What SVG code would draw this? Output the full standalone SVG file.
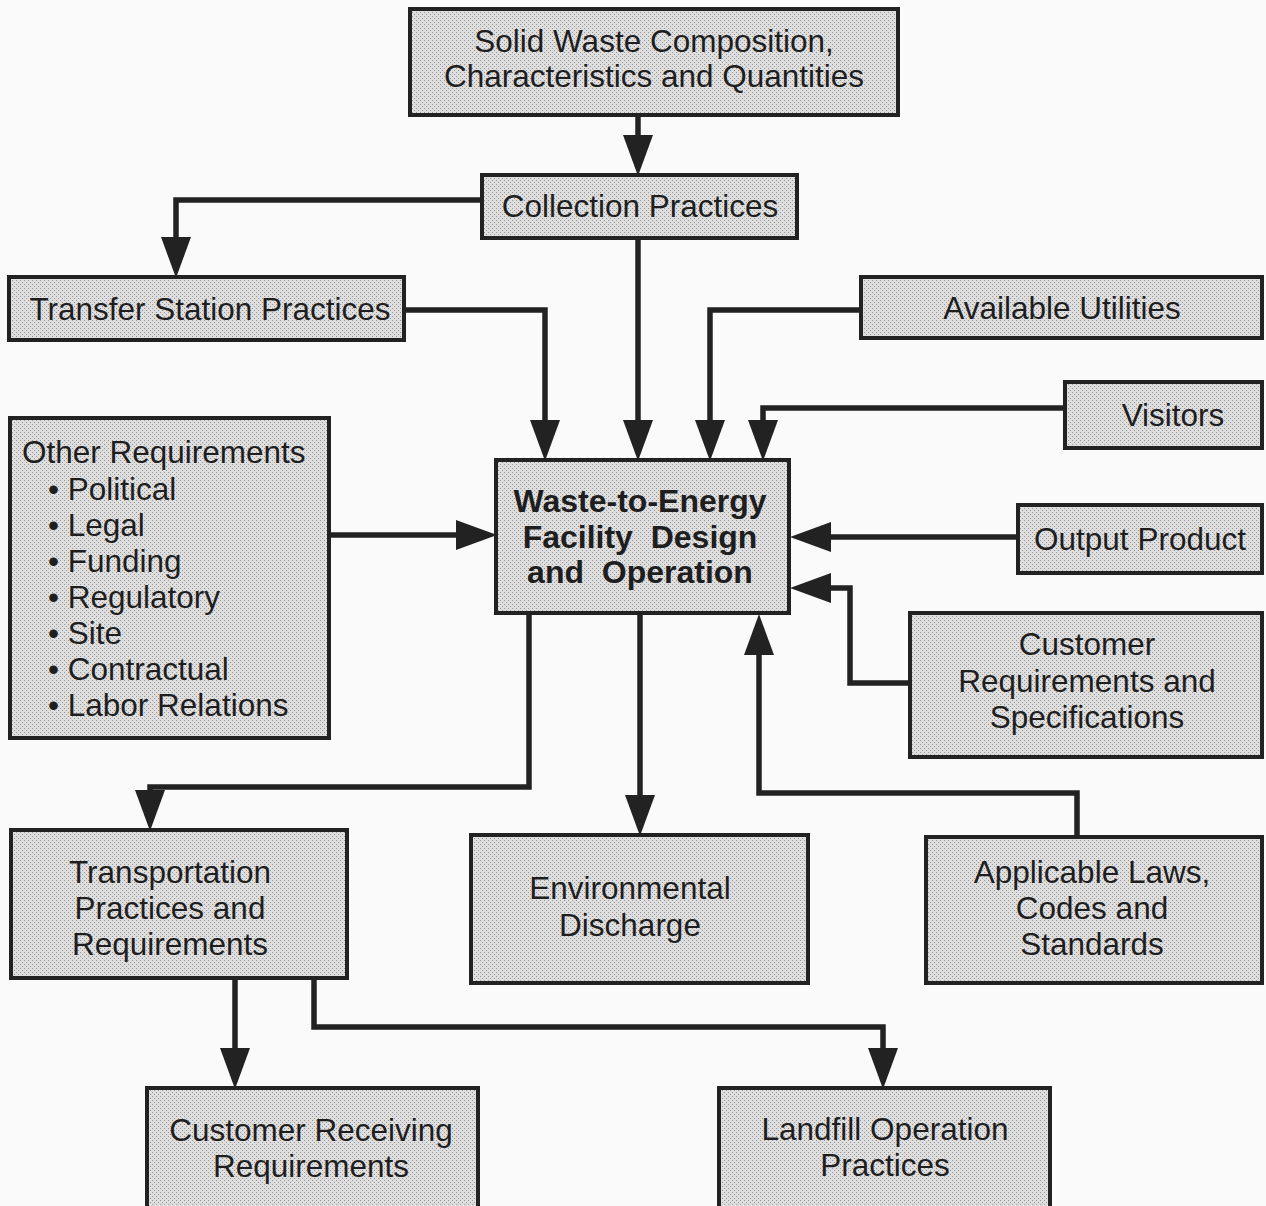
<svg xmlns="http://www.w3.org/2000/svg" width="1266" height="1206" viewBox="0 0 1266 1206">
  <defs>
    <pattern id="stip" width="4" height="4" patternUnits="userSpaceOnUse">
      <rect width="4" height="4" fill="#dedede"/>
      <rect x="0" y="0" width="1" height="1" fill="#969696"/>
      <rect x="2" y="2" width="1" height="1" fill="#969696"/>
    </pattern>
    <marker id="ah" markerUnits="userSpaceOnUse" markerWidth="42" markerHeight="32" viewBox="0 0 42 32" refX="10" refY="16" orient="auto">
      <path d="M0,1 L41,16 L0,31 z" fill="#222"/>
    </marker>
  </defs>
  <style>
    .box { fill: url(#stip); stroke: #222; stroke-width: 4; }
    .t { font-family: "Liberation Sans", Arial, sans-serif; font-size: 31.5px; fill: #1e1e1e; text-anchor: middle; }
    .tl { font-family: "Liberation Sans", Arial, sans-serif; font-size: 31.5px; fill: #1e1e1e; }
    .tb { font-family: "Liberation Sans", Arial, sans-serif; font-size: 32px; font-weight: bold; fill: #1e1e1e; text-anchor: middle; }
    .c { fill: none; stroke: #222; stroke-width: 5.5; stroke-linejoin: miter; marker-end: url(#ah); }
  </style>
  <rect width="1266" height="1206" fill="#fafafa"/>

  <g id="connectors">
    <path class="c" d="M638,115 V145"/>
    <path class="c" d="M482,200 H176 V247"/>
    <path class="c" d="M404,310 H545 V430"/>
    <path class="c" d="M638,238 V430"/>
    <path class="c" d="M861,310 H710 V430"/>
    <path class="c" d="M1065,408 H763 V430"/>
    <path class="c" d="M329,535 H466"/>
    <path class="c" d="M1018,537 H821"/>
    <path class="c" d="M910,683 H850 V588 H821"/>
    <path class="c" d="M1077,837 V793 H759 V645"/>
    <path class="c" d="M529,613 V787 H150 V800"/>
    <path class="c" d="M640,613 V805"/>
    <path class="c" d="M235,978 V1058"/>
    <path class="c" d="M314,978 V1027 H883 V1058"/>
  </g>

  <g id="solid-waste">
    <rect class="box" x="410" y="9" width="488" height="106"/>
    <text class="t" x="654" y="52">Solid Waste Composition,</text>
    <text class="t" x="654" y="87">Characteristics and Quantities</text>
  </g>
  <g id="collection">
    <rect class="box" x="482" y="175" width="315" height="63"/>
    <text class="t" x="640" y="217">Collection Practices</text>
  </g>
  <g id="transfer">
    <rect class="box" x="9" y="277" width="395" height="63"/>
    <text class="t" x="210" y="320">Transfer Station Practices</text>
  </g>
  <g id="utilities">
    <rect class="box" x="861" y="277" width="401" height="61"/>
    <text class="t" x="1062" y="319">Available Utilities</text>
  </g>
  <g id="visitors">
    <rect class="box" x="1065" y="382" width="197" height="66"/>
    <text class="t" x="1173" y="426">Visitors</text>
  </g>
  <g id="other-requirements">
    <rect class="box" x="10" y="418" width="319" height="320"/>
    <text class="tl" x="22" y="463">Other Requirements</text>
    <text class="tl" x="48" y="500">• Political</text>
    <text class="tl" x="48" y="536">• Legal</text>
    <text class="tl" x="48" y="572">• Funding</text>
    <text class="tl" x="48" y="608">• Regulatory</text>
    <text class="tl" x="48" y="644">• Site</text>
    <text class="tl" x="48" y="680">• Contractual</text>
    <text class="tl" x="48" y="716">• Labor Relations</text>
  </g>
  <g id="wte">
    <rect class="box" x="496" y="460" width="293" height="153"/>
    <text class="tb" x="640" y="512">Waste-to-Energy</text>
    <text class="tb" x="640" y="548" xml:space="preserve">Facility  Design</text>
    <text class="tb" x="640" y="583" xml:space="preserve">and  Operation</text>
  </g>
  <g id="output-product">
    <rect class="box" x="1018" y="505" width="244" height="68"/>
    <text class="t" x="1140" y="550">Output Product</text>
  </g>
  <g id="customer-requirements">
    <rect class="box" x="910" y="613" width="352" height="144"/>
    <text class="t" x="1087" y="655">Customer</text>
    <text class="t" x="1087" y="692">Requirements and</text>
    <text class="t" x="1087" y="728">Specifications</text>
  </g>
  <g id="transportation">
    <rect class="box" x="11" y="830" width="336" height="148"/>
    <text class="t" x="170" y="883">Transportation</text>
    <text class="t" x="170" y="919">Practices and</text>
    <text class="t" x="170" y="955">Requirements</text>
  </g>
  <g id="environmental">
    <rect class="box" x="471" y="835" width="337" height="148"/>
    <text class="t" x="630" y="899">Environmental</text>
    <text class="t" x="630" y="936">Discharge</text>
  </g>
  <g id="applicable-laws">
    <rect class="box" x="926" y="837" width="336" height="146"/>
    <text class="t" x="1092" y="883">Applicable Laws,</text>
    <text class="t" x="1092" y="919">Codes and</text>
    <text class="t" x="1092" y="955">Standards</text>
  </g>
  <g id="customer-receiving">
    <rect class="box" x="147" y="1088" width="331" height="130"/>
    <text class="t" x="311" y="1141">Customer Receiving</text>
    <text class="t" x="311" y="1177">Requirements</text>
  </g>
  <g id="landfill">
    <rect class="box" x="719" y="1088" width="331" height="130"/>
    <text class="t" x="885" y="1140">Landfill Operation</text>
    <text class="t" x="885" y="1176">Practices</text>
  </g>
</svg>
